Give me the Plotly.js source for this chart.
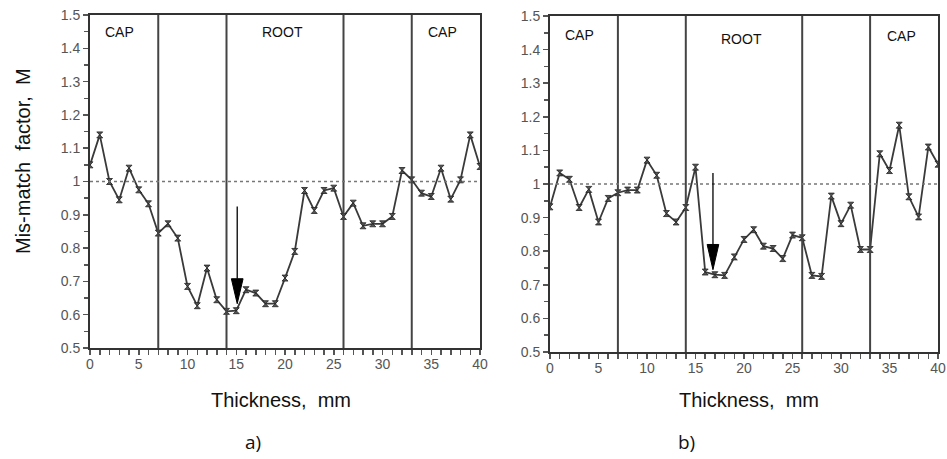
<!DOCTYPE html>
<html>
<head>
<meta charset="utf-8">
<script src="https://cdn.plot.ly/plotly-3.0.1.min.js"></script>
<style>html,body{margin:0;padding:0;background:#fff}#chart{width:947px;height:459px}</style>
</head>
<body>
<div id="chart"></div>
<script>
// Data (thickness in mm, mis-match factor M)
const thickness = [0,1,2,3,4,5,6,7,8,9,10,11,12,13,14,15,16,17,18,19,20,21,22,23,24,25,26,27,28,29,30,31,32,33,34,35,36,37,38,39,40];
const mismatchA = [1.05,1.14,1.00,0.945,1.04,0.975,0.933,0.845,0.873,0.83,0.685,0.627,0.74,0.645,0.61,0.612,0.675,0.665,0.633,0.633,0.71,0.79,0.973,0.913,0.973,0.98,0.895,0.935,0.867,0.873,0.873,0.895,1.033,1.005,0.965,0.955,1.04,0.947,1.005,1.14,1.045];
const mismatchB = [0.932,1.033,1.014,0.93,0.984,0.887,0.957,0.974,0.982,0.982,1.071,1.026,0.912,0.887,0.93,1.05,0.738,0.73,0.728,0.783,0.835,0.864,0.815,0.808,0.778,0.848,0.84,0.728,0.725,0.964,0.882,0.937,0.805,0.805,1.09,1.04,1.175,0.962,0.902,1.11,1.059];
const zoneBounds = [7, 14, 26, 33];
const zoneLabels = ["CAP", "ROOT", "CAP"];
const zoneLabelX = [3.0, 19.7, 36.2];
const zoneLabelYA = [1.449, 1.449, 1.449];
const zoneLabelYB = [1.443, 1.432, 1.44];
const refLevel = 1;
const arrowA = {x: 15.1, yTail: 0.925, yTip: 0.633};
const arrowB = {x: 16.8, yTail: 1.033, yTip: 0.745};
const yTickVals = [0.5,0.6,0.7,0.8,0.9,1,1.1,1.2,1.3,1.4,1.5];
const yTickText = ["0.5","0.6","0.7","0.8","0.9","1","1.1","1.2","1.3","1.4","1.5"];
const xTickVals = [0,5,10,15,20,25,30,35,40];
const xTickText = ["0","5","10","15","20","25","30","35","40"];
const yTitle = "Mis-match&nbsp; factor,&nbsp; M";
const xTitle = "Thickness,&nbsp; mm";
const panelLabels = ["a)", "b)"];

const lineColor = "#3a3a3a";
const sans = "Liberation Sans, Arial, sans-serif";
const traces = [];
[[mismatchA, "x", "y"], [mismatchB, "x2", "y2"]].forEach(([vals, xa, ya]) => {
  traces.push({
    x: thickness, y: vals, xaxis: xa, yaxis: ya, type: "scatter", mode: "lines+markers",
    line: {color: lineColor, width: 1.8},
    marker: {symbol: "hourglass", size: 6, color: "#555", line: {color: "#222", width: 0.8}},
    hoverinfo: "skip", showlegend: false
  });
});

function axX(domain, anchor) {
  return {
    domain: domain, anchor: anchor, range: [0, 40], showgrid: false, zeroline: false,
    tickmode: "array", tickvals: xTickVals, ticktext: xTickText,
    ticks: "outside", ticklen: 5, tickwidth: 1.5, tickcolor: "#555", ticklabelstandoff: -3,
    minor: {dtick: 1, tick0: 0, ticks: "outside", ticklen: 5, tickwidth: 1.5, tickcolor: "#555"},
    showline: true, linecolor: "#333", linewidth: 2, mirror: true,
    tickfont: {family: sans, size: 14, color: "#555"}
  };
}
function axY(domain, anchor) {
  return {
    domain: domain, anchor: anchor, range: [0.5, 1.5], showgrid: false, zeroline: false,
    tickmode: "array", tickvals: yTickVals, ticktext: yTickText,
    ticks: "outside", ticklen: 5, tickwidth: 1.5, tickcolor: "#555",
    minor: {dtick: 0.05, tick0: 0.5, ticks: "outside", ticklen: 4, tickwidth: 1.5, tickcolor: "#555"},
    showline: true, linecolor: "#333", linewidth: 2, mirror: true,
    tickfont: {family: sans, size: 14, color: "#555"}
  };
}

const shapes = [];
const annotations = [];
[["x", "y", arrowA, zoneLabelYA], ["x2", "y2", arrowB, zoneLabelYB]].forEach(([xa, ya, arr, labY]) => {
  zoneBounds.forEach(b => shapes.push({type: "line", xref: xa, yref: ya, x0: b, x1: b, y0: 0.5, y1: 1.5,
    line: {color: "#444", width: 2}}));
  shapes.push({type: "line", xref: xa, yref: ya, x0: 0, x1: 40, y0: refLevel, y1: refLevel,
    line: {color: "#777", width: 1.5, dash: "dot"}});
  zoneLabels.forEach((t, i) => annotations.push({xref: xa, yref: ya, x: zoneLabelX[i], y: labY[i],
    text: t, showarrow: false, font: {family: sans, size: 14, color: "#111"}}));
  // arrow shaft
  const headLen = 0.075, headHalf = 0.6;
  shapes.push({type: "line", xref: xa, yref: ya, x0: arr.x, x1: arr.x, y0: arr.yTail, y1: arr.yTip + headLen,
    line: {color: "#000", width: 1.3}});
  // arrow head (filled narrow triangle)
  shapes.push({type: "path", xref: xa, yref: ya,
    path: `M ${arr.x} ${arr.yTip} L ${arr.x - headHalf} ${arr.yTip + headLen} L ${arr.x + headHalf} ${arr.yTip + headLen} Z`,
    fillcolor: "#000", line: {color: "#000", width: 1}});
});

annotations.push({xref: "paper", yref: "paper", x: 23/947, y: 1 - 161/459, xanchor: "center", yanchor: "middle",
  text: yTitle, textangle: -90, showarrow: false, font: {family: sans, size: 20, color: "#111"}});
annotations.push({xref: "paper", yref: "paper", x: 281/947, y: 1 - 400/459, xanchor: "center", yanchor: "middle",
  text: xTitle, showarrow: false, font: {family: sans, size: 20, color: "#111"}});
annotations.push({xref: "paper", yref: "paper", x: 749/947, y: 1 - 400/459, xanchor: "center", yanchor: "middle",
  text: xTitle, showarrow: false, font: {family: sans, size: 20, color: "#111"}});
annotations.push({xref: "paper", yref: "paper", x: 253/947, y: 1 - 442/459, xanchor: "center", yanchor: "middle",
  text: panelLabels[0], showarrow: false, font: {family: "Open Sans, Noto Sans, sans-serif", size: 19, color: "#111"}});
annotations.push({xref: "paper", yref: "paper", x: 686/947, y: 1 - 442/459, xanchor: "center", yanchor: "middle",
  text: panelLabels[1], showarrow: false, font: {family: "Open Sans, Noto Sans, sans-serif", size: 19, color: "#111"}});

const layout = {
  width: 947, height: 459,
  margin: {l: 0, r: 0, t: 0, b: 0},
  paper_bgcolor: "#fff", plot_bgcolor: "#fff",
  xaxis: axX([90/947, 480/947], "y"),
  yaxis: axY([1 - 348/459, 1 - 15/459], "x"),
  xaxis2: axX([550/947, 938/947], "y2"),
  yaxis2: axY([1 - 352/459, 1 - 16/459], "x2"),
  shapes: shapes, annotations: annotations
};

Plotly.newPlot("chart", traces, layout, {staticPlot: true, displayModeBar: false});
</script>
</body>
</html>
